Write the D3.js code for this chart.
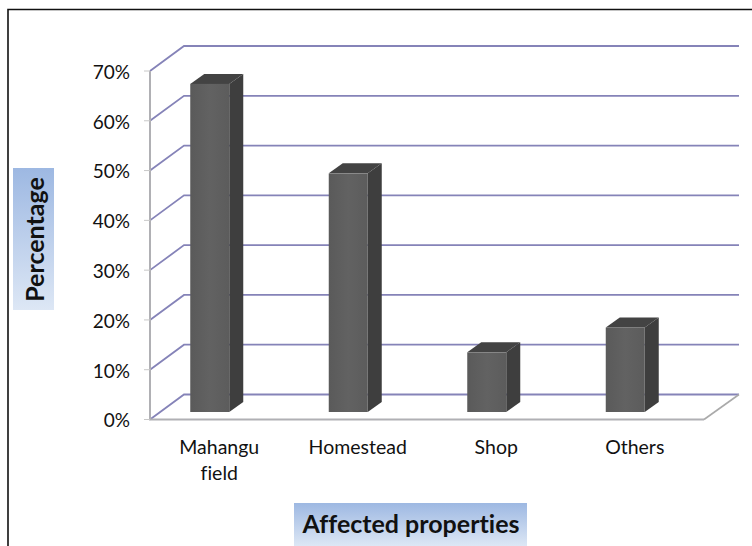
<!DOCTYPE html>
<html><head><meta charset="utf-8">
<script src="https://cdn.jsdelivr.net/npm/d3@7"></script>
<style>html,body{margin:0;padding:0;background:#fff}svg{display:block}text{font-family:Lato,"Open Sans",sans-serif;fill:#111;font-variant-ligatures:none}</style>
</head><body><svg width="752" height="546"></svg>
<script>
const categories = ["Mahangu field","Homestead","Shop","Others"];
const categoryLines = [["Mahangu","field"],["Homestead"],["Shop"],["Others"]];
const values = [66,48,12,17];
const ticks = [0,10,20,30,40,50,60,70];
const yTitle = "Percentage";
const xTitle = "Affected properties";

const svg = d3.select("svg");
const defs = svg.append("defs");
const g1 = defs.append("linearGradient").attr("id","gx").attr("x1",0).attr("y1",0).attr("x2",0).attr("y2",1);
g1.append("stop").attr("offset",0).attr("stop-color","#9db8e2");
g1.append("stop").attr("offset",1).attr("stop-color","#dde7f5");
const g2 = defs.append("linearGradient").attr("id","gy").attr("x1",0).attr("y1",0).attr("x2",0).attr("y2",1);
g2.append("stop").attr("offset",0).attr("stop-color","#9db8e2");
g2.append("stop").attr("offset",1).attr("stop-color","#dde7f5");
const shade = defs.append("linearGradient").attr("id","bf").attr("x1",0).attr("y1",0).attr("x2",1).attr("y2",0);
shade.append("stop").attr("offset",0).attr("stop-color","#5a5a5a");
shade.append("stop").attr("offset",.5).attr("stop-color","#626262");
shade.append("stop").attr("offset",1).attr("stop-color","#5c5c5c");

// frame
svg.append("path").attr("d","M8,546V9.5H752").attr("fill","none").attr("stroke","#111").attr("stroke-width",1.6);

const y = d3.scaleLinear().domain([0,70]).range([419.5,71]);
const x = d3.scaleBand().domain(categories).range([150,704]).paddingInner(0).paddingOuter(0);
const dx = 34, dy = -25;   // wall depth
const bdx = 14, bdy = -10;   // bar depth
const barW = 39;
const barBase = 412;
const h = d3.scaleLinear().domain([0,70]).range([0,348]);

// gridlines
const lineCol = "#8583b8";
const gl = svg.append("g");
gl.selectAll("path").data(ticks).join("path")
  .attr("d",t=>`M${x.range()[0]},${y(t)}L${x.range()[0]+dx},${y(t)+dy}H739`)
  .attr("fill","none").attr("stroke",lineCol).attr("stroke-width",1.8);

// floor outline + axis
svg.append("path").attr("d",`M${x.range()[1]},${y(0)}L739,${y(0)+dy}`).attr("fill","none").attr("stroke","#aaa").attr("stroke-width",1.6);
svg.append("path").attr("d",`M150,${y(70)}V${y(0)}H${x.range()[1]}`).attr("fill","none").attr("stroke","#b0b0b4").attr("stroke-width",2);
svg.append("g").selectAll("line").data(ticks).join("line")
  .attr("x1",144).attr("x2",150).attr("y1",t=>y(t)).attr("y2",t=>y(t)).attr("stroke","#c8c8c8");

// y labels
svg.append("g").selectAll("text").data(ticks).join("text")
  .attr("x",130).attr("y",t=>y(t)+1).attr("dy","0.36em").attr("text-anchor","end").attr("font-size",19).text(t=>t+"%");

// bars
const bars = svg.append("g").selectAll("g").data(categories.map((c,i)=>({c,v:values[i]}))).join("g");
const bx = d => x(d.c)+x.bandwidth()/2-barW/2-9.5;
bars.append("path").attr("fill","#3e3e3e")
  .attr("d",d=>{const l=bx(d)+barW,t=barBase-h(d.v);return `M${l},${t}l${bdx},${bdy}V${barBase+bdy}l${-bdx},${-bdy}Z`});
bars.append("path").attr("fill","#434343")
  .attr("d",d=>{const l=bx(d),t=barBase-h(d.v);return `M${l},${t}l${bdx},${bdy}h${barW}l${-bdx},${-bdy}Z`});
bars.append("rect").attr("fill","url(#bf)")
  .attr("x",bx).attr("width",barW).attr("y",d=>barBase-h(d.v)).attr("height",d=>h(d.v));

// category labels
const cl = svg.append("g").selectAll("text").data(categories.map((c,i)=>({c,l:categoryLines[i]}))).join("text")
  .attr("text-anchor","middle").attr("font-size",19.5);
cl.selectAll("tspan").data(d=>d.l.map(s=>({s,c:d.c}))).join("tspan")
  .attr("x",d=>x(d.c)+x.bandwidth()/2).attr("y",(d,i)=>454+i*25.5).text(d=>d.s);

// titles
svg.append("rect").attr("x",294).attr("y",503).attr("width",233).attr("height",43).attr("fill","url(#gx)");
svg.append("text").attr("x",411).attr("y",533).attr("text-anchor","middle").attr("font-size",25).attr("font-weight",700).text(xTitle);
svg.append("rect").attr("x",13).attr("y",168).attr("width",41).attr("height",142).attr("fill","url(#gy)");
svg.append("text").attr("transform","translate(43.5,239.5) rotate(-90)").attr("text-anchor","middle").attr("font-size",25).attr("font-weight",700).text(yTitle);
</script></body></html>
